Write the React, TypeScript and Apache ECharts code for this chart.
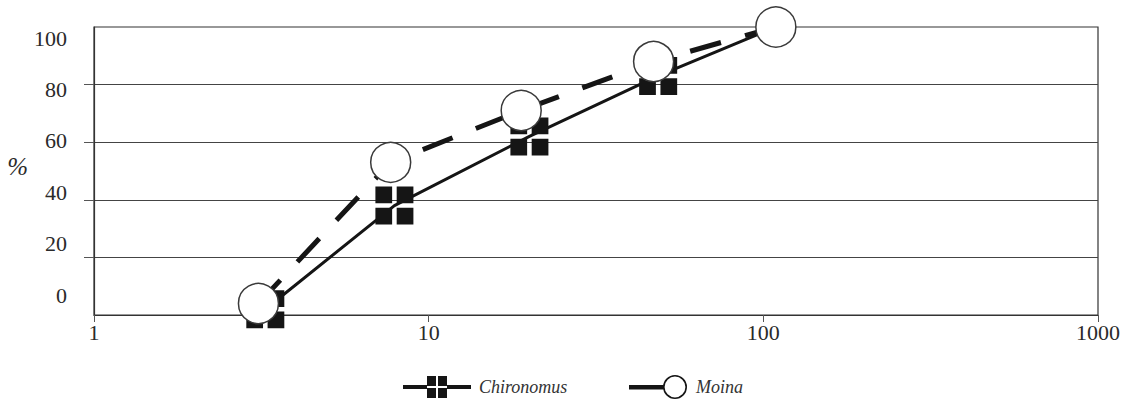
import React, { useEffect, useRef } from "react";
import * as echarts from "echarts";

const xTicks = [1, 10, 100, 1000];
const yTicks = [0, 20, 40, 60, 80, 100];
const chironomusName = "Chironomus";
const moinaName = "Moina";
const chironomusData: [number, number][] = [
  [3.25, 2],
  [7.9, 38],
  [20, 62],
  [48.5, 83],
  [109, 100],
];
const moinaData: [number, number][] = [
  [3.1, 4],
  [7.7, 53],
  [18.9, 71],
  [47, 88],
  [109, 100],
];

const SERIF = "'Liberation Serif', 'DejaVu Serif', serif";
const INK = "#151515";

const crossSymbol =
  "path://M0,0H8.8V8.8H0Z M11.2,0H20V8.8H11.2Z M0,11.2H8.8V20H0Z M11.2,11.2H20V20H11.2Z";
const chironomusIcon =
  "path://M0,9H24V13H0Z M44,9H68V13H44Z M24,0H33V10H24Z M35,0H44V10H35Z M24,12H33V22H24Z M35,12H44V22H35Z";
const moinaIcon =
  "path://M0,10H34.5V14.5H0Z M46,0 A12,12 0 1,1 46,24 A12,12 0 1,1 46,0Z M46,1.6 A10.4,10.4 0 1,0 46,22.4 A10.4,10.4 0 1,0 46,1.6Z";

export default function App() {
  const ref = useRef<HTMLDivElement>(null);
  useEffect(() => {
    if (!ref.current) return;
    const chart = echarts.init(ref.current, undefined, { renderer: "svg" });
    const lastIdx = chironomusData.length - 1;
    chart.setOption({
      animation: false,
      backgroundColor: "#ffffff",
      grid: [
        {
          left: 94,
          right: 36,
          top: 27,
          bottom: 85,
          show: true,
          borderColor: "#333",
          borderWidth: 1.2,
        },
        { left: 94, right: 36, top: 38, bottom: 105, show: false },
      ],
      xAxis: [
        {
          type: "log",
          logBase: 10,
          min: xTicks[0],
          max: xTicks[xTicks.length - 1],
          gridIndex: 0,
          axisLine: { show: true, lineStyle: { color: "#333", width: 1.2 } },
          axisTick: { show: true, length: 7, lineStyle: { color: "#555" } },
          splitLine: { show: false },
          minorTick: { show: false },
          axisLabel: {
            margin: 6,
            fontFamily: SERIF,
            fontSize: 22,
            color: "#2a2a2a",
            formatter: (v: number) => String(Math.round(v)),
          },
        },
        {
          type: "value",
          gridIndex: 1,
          show: false,
          min: 0,
          max: 1,
        },
      ],
      yAxis: [
        {
          type: "value",
          gridIndex: 0,
          min: yTicks[0],
          max: yTicks[yTicks.length - 1],
          interval: 20,
          axisLine: { show: true, lineStyle: { color: "#333", width: 1.2 } },
          axisTick: {
            show: true,
            length: 10,
            customValues: [20, 40, 60, 80],
            lineStyle: { color: "#555" },
          },
          axisLabel: { show: false },
          splitLine: { show: true, lineStyle: { color: "#444", width: 1 } },
        },
        {
          type: "value",
          gridIndex: 1,
          min: yTicks[0],
          max: yTicks[yTicks.length - 1],
          interval: 20,
          axisLine: { show: false },
          axisTick: { show: false },
          splitLine: { show: false },
          axisLabel: {
            margin: 27,
            fontFamily: SERIF,
            fontSize: 22,
            color: "#2a2a2a",
          },
          name: "%",
          nameLocation: "middle",
          nameRotate: 0,
          nameGap: 64,
          nameTextStyle: {
            fontFamily: SERIF,
            fontStyle: "italic",
            fontSize: 25,
            color: "#2a2a2a",
            padding: [0, 0, 8, 0],
          },
        },
      ],
      legend: [
        {
          left: 403,
          top: 376,
          itemWidth: 68,
          itemHeight: 22,
          padding: 0,
          data: [
            {
              name: chironomusName,
              icon: chironomusIcon,
              itemStyle: { color: INK, borderWidth: 0 },
            },
          ],
          textStyle: {
            fontFamily: SERIF,
            fontStyle: "italic",
            fontSize: 18,
            color: "#333",
            padding: [0, 0, 0, 3],
          },
        },
        {
          left: 629,
          top: 375,
          itemWidth: 58,
          itemHeight: 24,
          padding: 0,
          data: [
            {
              name: moinaName,
              icon: moinaIcon,
              itemStyle: { color: INK, borderWidth: 0 },
            },
          ],
          textStyle: {
            fontFamily: SERIF,
            fontStyle: "italic",
            fontSize: 18,
            color: "#333",
            padding: [0, 0, 0, 4],
          },
        },
      ],
      series: [
        {
          name: chironomusName,
          type: "line",
          xAxisIndex: 0,
          yAxisIndex: 0,
          data: chironomusData.map((d, i) =>
            i === lastIdx ? { value: d, symbol: "none" } : { value: d }
          ),
          symbol: crossSymbol,
          symbolSize: 38,
          itemStyle: { color: INK },
          lineStyle: { color: INK, width: 3 },
          z: 2,
        },
        {
          name: moinaName,
          type: "line",
          xAxisIndex: 0,
          yAxisIndex: 0,
          data: moinaData,
          symbol: "circle",
          symbolSize: 40,
          itemStyle: { color: "#ffffff", borderColor: "#3a3a3a", borderWidth: 1.5 },
          lineStyle: { color: INK, width: 5, type: [32, 25] },
          z: 3,
        },
      ],
    });
    return () => chart.dispose();
  }, []);
  return (
    <div
      ref={ref}
      style={{ position: "fixed", left: 0, top: 0, width: 1134, height: 400 }}
    />
  );
}
